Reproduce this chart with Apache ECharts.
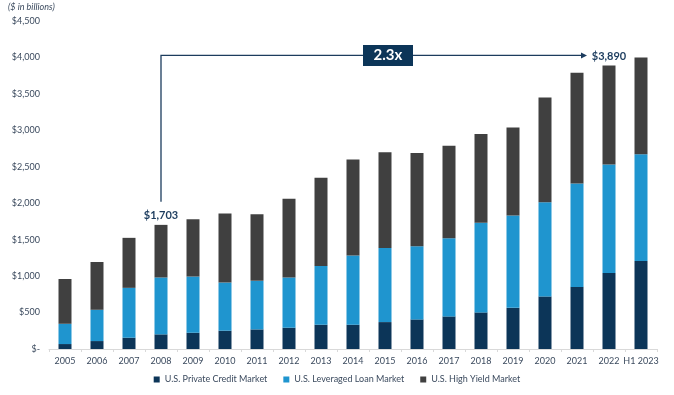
<!DOCTYPE html>
<html><head><meta charset="utf-8">
<script src="https://cdn.jsdelivr.net/npm/echarts@6/dist/echarts.min.js"></script>
<style>html,body{margin:0;padding:0;background:#fff}#c{width:674px;height:395px}</style>
</head><body><div id="c"></div>
<script>
const categories = ['2005','2006','2007','2008','2009','2010','2011','2012','2013','2014','2015','2016','2017','2018','2019','2020','2021','2022','H1 2023'];
const privateCredit = [68,109,155,201,223,251,269,292,333,333,369,406,447,502,565,721,852,1044,1208];
const leveragedLoan = [278,429,684,780,771,661,666,689,807,951,1017,1003,1071,1231,1268,1294,1419,1487,1464];
const highYield = [614,656,686,722,786,948,915,1079,1210,1316,1314,1281,1272,1217,1207,1435,1519,1359,1328];
const yTicks = [0,500,1000,1500,2000,2500,3000,3500,4000,4500];
const labeledIdx = [3, 17];
const labeledText = {3: '$1,703', 17: '$3,890'};
const multipleText = '2.3x';

const totals = categories.map((_, i) => privateCredit[i] + leveragedLoan[i] + highYield[i]);
const font = 'Lato, "Open Sans", sans-serif';
const txt = '#3b4a5e';

const chart = echarts.init(document.getElementById('c'));
const bw = 13;
chart.setOption({
  animation: false,
  textStyle: {fontFamily: font},
  grid: {left: 49, right: 17, top: 21, bottom: 46},
  graphic: [],
  legend: {
    bottom: 6, left: 'center', itemWidth: 6, itemHeight: 6, itemGap: 16,
    icon: 'rect',
    textStyle: {fontSize: 9, color: txt, fontFamily: font},
    data: ['U.S. Private Credit Market','U.S. Leveraged Loan Market','U.S. High Yield Market']
  },
  xAxis: {
    type: 'category', data: categories,
    axisLine: {lineStyle: {color: '#d9d9d9'}},
    axisTick: {show: true, lineStyle: {color: '#d9d9d9'}, length: 3},
    axisLabel: {fontSize: 9, color: txt, margin: 8, fontFamily: font, interval: 0, hideOverlap: false}
  },
  yAxis: {
    type: 'value', min: 0, max: 4500, interval: 500,
    splitLine: {show: false}, axisLine: {show: false}, axisTick: {show: false},
    axisLabel: {fontSize: 9, color: txt, margin: 9, fontFamily: font,
      formatter: v => v === 0 ? '$-' : '$' + v.toLocaleString('en-US')}
  },
  series: [
    {name: 'U.S. Private Credit Market', type: 'bar', stack: 't', barWidth: bw, data: privateCredit, itemStyle: {color: '#0c3558'}},
    {name: 'U.S. Leveraged Loan Market', type: 'bar', stack: 't', barWidth: bw, data: leveragedLoan, itemStyle: {color: '#1f95cf'}},
    {name: 'U.S. High Yield Market', type: 'bar', stack: 't', barWidth: bw, data: highYield, itemStyle: {color: '#404040'},
      label: {show: true, position: 'top', distance: 4, fontSize: 11, fontWeight: 'bold', color: '#1c3c5e', fontFamily: font,
        formatter: p => labeledText[p.dataIndex] || ''}}
  ]
});

// annotation built from the library's own scale conversion
const p08 = chart.convertToPixel({xAxisIndex: 0, yAxisIndex: 0}, [categories[3], totals[3]]);
const p22 = chart.convertToPixel({xAxisIndex: 0, yAxisIndex: 0}, [categories[17], totals[17]]);
const yLine = p22[1] - 10;
const x0 = p08[0];
const xEnd = p22[0] - 22;
const boxCx = (x0 + xEnd) / 2 + 14;
const lc = '#1c3c5e';
chart.setOption({graphic: [
  {type: 'polyline', shape: {points: [[x0, p08[1] - 23], [x0, yLine], [xEnd - 4, yLine]]}, style: {stroke: lc, lineWidth: 1.3, fill: null}, z: 10},
  {type: 'polygon', shape: {points: [[xEnd, yLine], [xEnd - 6, yLine - 3], [xEnd - 6, yLine + 3]]}, style: {fill: lc}, z: 10},
  {type: 'rect', shape: {x: boxCx - 25, y: yLine - 10.5, width: 50, height: 21}, style: {fill: '#0c3558'}, z: 11},
  {type: 'text', x: boxCx, y: yLine, style: {text: multipleText, fill: '#fff', font: 'bold 15px ' + font, align: 'center', verticalAlign: 'middle'}, z: 12},
  {type: 'text', left: 8, top: 3, style: {text: '($ in billions)', fill: txt, font: 'italic 9px ' + font}}
]});
</script></body></html>
